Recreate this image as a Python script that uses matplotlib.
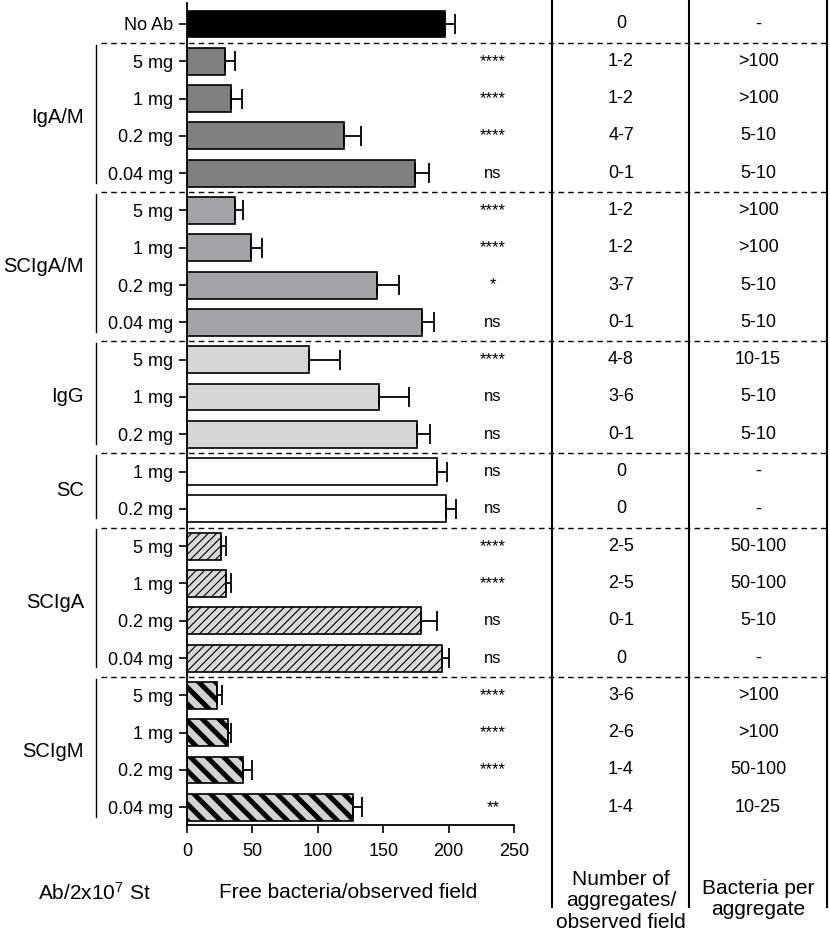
import matplotlib.pyplot as plt
import matplotlib.transforms as mtransforms
import numpy as np

plt.rcParams['font.family'] = ['Liberation Sans', 'DejaVu Sans']
plt.rcParams['mathtext.fontset'] = 'custom'
plt.rcParams['mathtext.rm'] = 'Liberation Sans'
plt.rcParams['mathtext.default'] = 'regular'

labels = ['No Ab',
          '5 mg', '1 mg', '0.2 mg', '0.04 mg',
          '5 mg', '1 mg', '0.2 mg', '0.04 mg',
          '5 mg', '1 mg', '0.2 mg',
          '1 mg', '0.2 mg',
          '5 mg', '1 mg', '0.2 mg', '0.04 mg',
          '5 mg', '1 mg', '0.2 mg', '0.04 mg']
free = [197,
        29, 34, 120, 174,
        37, 49, 145, 180,
        93, 147, 176,
        191, 198,
        26, 30, 179, 195,
        23, 31, 43, 127]
err = [8,
       8, 8, 13, 11,
       6, 8, 17, 9,
       24, 23, 10,
       8, 8,
       4, 4, 12, 5,
       4, 3, 7, 7]
signif = ['',
          '****', '****', '****', 'ns',
          '****', '****', '*', 'ns',
          '****', 'ns', 'ns',
          'ns', 'ns',
          '****', '****', 'ns', 'ns',
          '****', '****', '****', '**']
n_aggr = ['0',
          '1-2', '1-2', '4-7', '0-1',
          '1-2', '1-2', '3-7', '0-1',
          '4-8', '3-6', '0-1',
          '0', '0',
          '2-5', '2-5', '0-1', '0',
          '3-6', '2-6', '1-4', '1-4']
bact_aggr = ['-',
             '>100', '>100', '5-10', '5-10',
             '>100', '>100', '5-10', '5-10',
             '10-15', '5-10', '5-10',
             '-', '-',
             '50-100', '50-100', '5-10', '-',
             '>100', '>100', '50-100', '10-25']
groups = ['IgA/M', 'SCIgA/M', 'IgG', 'SC', 'SCIgA', 'SCIgM']
group_size = [4, 4, 3, 2, 4, 4]

# look of each block (No Ab first, then the groups)
fill = ['black', '#808080', '#a3a3a7', '#d6d6d6', 'white', '#dadada', '#d3d3d3']
hatch = [None, None, None, None, None, '////', '\\\\']
hatch_lw = [1, 1, 1, 1, 1, 0.8, 3.6]

W, H = 830, 935
fig = plt.figure(figsize=(W / 100, H / 100), dpi=100)
ax = fig.add_axes([187 / W, 110 / H, 327 / W, 822 / H])

rows = np.arange(len(labels))
gid = np.repeat(np.arange(len(fill)), [1] + group_size)
free = np.array(free)

for g in range(len(fill)):
    idx = rows[gid == g]
    with plt.rc_context({'hatch.linewidth': hatch_lw[g]}):
        bars = ax.barh(idx, free[idx], height=0.72, color=fill[g],
                       edgecolor='black', linewidth=1.2, hatch=hatch[g])
    for b in bars:
        if hasattr(b, 'set_hatch_linewidth'):
            b.set_hatch_linewidth(hatch_lw[g])

ax.errorbar(free, rows, xerr=[np.zeros(len(err)), err], fmt='none',
            ecolor='black', elinewidth=1.3, capsize=7, capthick=1.3)

ax.set_xlim(0, 250)
ax.set_ylim(21.475, -0.563)
ax.set_xticks([0, 50, 100, 150, 200, 250])
ax.set_yticks(rows, labels)
ax.tick_params(axis='y', length=6, width=1.2, pad=4, labelsize=13)
ax.tick_params(axis='x', length=6, width=1.2, pad=7, labelsize=13)
for s in ['top', 'right']:
    ax.spines[s].set_visible(False)
for s in ['left', 'bottom']:
    ax.spines[s].set_linewidth(1.3)

# x in figure fraction, y in row units
tr = mtransforms.blended_transform_factory(fig.transFigure, ax.transData)

# dashed separators between groups and group brackets
ends = np.cumsum([1] + group_size)
for k, name in enumerate(groups):
    first, last = ends[k], ends[k + 1] - 1
    ax.plot([101 / W, 1.0], [first - 0.5, first - 0.5], transform=tr,
            color='black', lw=1.0, ls=(0, (4, 3)), clip_on=False)
    ax.plot([96 / W, 96 / W], [first - 0.45, last + 0.25], transform=tr,
            color='black', lw=1.0, clip_on=False)
    ax.text(84 / W, (first + last) / 2, name, transform=tr, ha='right',
            va='center', fontsize=14.5)

# significance and table columns
for i in rows:
    ax.text(234, i, signif[i], ha='center', va='center', fontsize=12,
            clip_on=False)
    ax.text(621 / W, i, n_aggr[i], transform=tr, ha='center', va='center',
            fontsize=13)
    ax.text(758 / W, i, bact_aggr[i], transform=tr, ha='center',
            va='center', fontsize=13)

for xp in [552, 689, 827]:
    fig.add_artist(plt.Line2D([xp / W, xp / W], [1.0, 28 / H],
                              transform=fig.transFigure, color='black', lw=1.5))

fig.text(94 / W, 1 - 893 / H, 'Ab/2x10$^{7}$ St', ha='center', va='center',
         fontsize=15)
fig.text(348 / W, 1 - 893 / H, 'Free bacteria/observed field', ha='center',
         va='center', fontsize=15)
fig.text(621 / W, 1 - 901 / H, 'Number of\naggregates/\nobserved field',
         ha='center', va='center', fontsize=15, linespacing=1.15)
fig.text(758 / W, 1 - 899 / H, 'Bacteria per\naggregate', ha='center',
         va='center', fontsize=15, linespacing=1.15)

fig.savefig('out.png', dpi=100)
